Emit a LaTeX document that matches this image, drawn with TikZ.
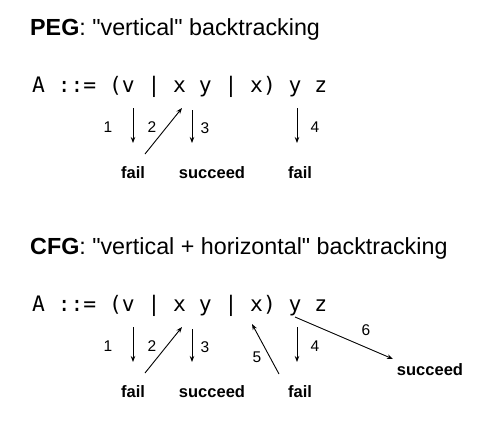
\documentclass[tikz,border=0pt]{standalone}
\usepackage{fontspec}
\setmainfont{Liberation Sans}[Ligatures=TeXOff]
\newfontfamily\grammarfont{DejaVu Sans Mono}
\usetikzlibrary{arrows.meta}
\begin{document}
\begin{tikzpicture}[x=1pt,y=-1pt]
\tikzstyle{heading} = [anchor=base west, inner sep=0pt, font=\fontsize{23.3}{26}\selectfont]
\tikzstyle{rule} = [anchor=base west, inner sep=0pt, font=\grammarfont\fontsize{21.3}{24}\selectfont]
\tikzstyle{result} = [anchor=base, inner sep=0pt, font=\bfseries\fontsize{16.5}{19}\selectfont]
\tikzstyle{stepno} = [inner sep=0pt, font=\fontsize{15.5}{18}\selectfont]
\tikzstyle{track} = [-{Stealth[length=6pt,width=4.5pt]}, line width=0.9pt]
\useasboundingbox (0,0) rectangle (481,421);
% PEG
\node (peg) [heading] at (30,35) {\textbf{PEG}: "vertical" backtracking};
\node (peggram) [rule] at (32,92) {A ::= (v | x y | x) y z};
\node (pegfail1) [result] at (133,178) {fail};
\node (pegok) [result] at (212,178) {succeed};
\node (pegfail2) [result] at (300,178) {fail};
\coordinate (p1a) at (133,108); \coordinate (p1b) at (133,143);
\coordinate (p2a) at (145,154); \coordinate (p2b) at (182,108);
\coordinate (p3a) at (192,110); \coordinate (p3b) at (192,143);
\coordinate (p4a) at (297,108); \coordinate (p4b) at (297,143);
\draw [track] (p1a) -- (p1b);
\draw [track] (p2a) -- (p2b);
\draw [track] (p3a) -- (p3b);
\draw [track] (p4a) -- (p4b);
\node (pn1) [stepno] at (108,127) {1};
\node (pn2) [stepno] at (152,127) {2};
\node (pn3) [stepno] at (205,128) {3};
\node (pn4) [stepno] at (315,127) {4};
% CFG
\node (cfg) [heading] at (30,254) {\textbf{CFG}: "vertical + horizontal" backtracking};
\node (cfggram) [rule] at (32,311) {A ::= (v | x y | x) y z};
\node (cfgfail1) [result] at (133,397) {fail};
\node (cfgok1) [result] at (212,397) {succeed};
\node (cfgfail2) [result] at (300,397) {fail};
\node (cfgok2) [result] at (430,375) {succeed};
\coordinate (c1a) at (133,327); \coordinate (c1b) at (133,362);
\coordinate (c2a) at (145,373); \coordinate (c2b) at (182,327);
\coordinate (c3a) at (192,329); \coordinate (c3b) at (192,362);
\coordinate (c4a) at (297,327); \coordinate (c4b) at (297,362);
\coordinate (c5a) at (279,374); \coordinate (c5b) at (252,324);
\coordinate (c6a) at (295,317); \coordinate (c6b) at (393,359);
\draw [track] (c1a) -- (c1b);
\draw [track] (c2a) -- (c2b);
\draw [track] (c3a) -- (c3b);
\draw [track] (c4a) -- (c4b);
\draw [track] (c5a) -- (c5b);
\draw [track] (c6a) -- (c6b);
\node (cn1) [stepno] at (108,346) {1};
\node (cn2) [stepno] at (152,346) {2};
\node (cn3) [stepno] at (205,347) {3};
\node (cn4) [stepno] at (315,346) {4};
\node (cn5) [stepno] at (257,357) {5};
\node (cn6) [stepno] at (366,330) {6};
\end{tikzpicture}
\end{document}
